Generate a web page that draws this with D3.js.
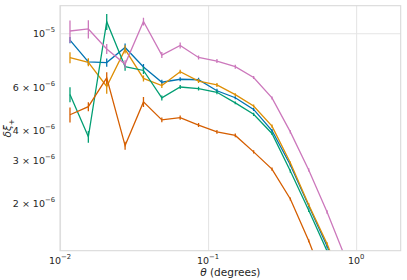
<!DOCTYPE html>
<html>
<head>
<meta charset="utf-8">
<script src="https://cdn.jsdelivr.net/npm/d3@7"></script>
<style>
  body { margin: 0; background: #fff; }
  svg { display: block; font-family: "DejaVu Sans", sans-serif; }
</style>
</head>
<body>
<script>
// angular bins (degrees)
const theta = [0.01168, 0.01554, 0.02068, 0.02752, 0.03662, 0.04872, 0.06482, 0.08625,
               0.1148, 0.1527, 0.2031, 0.2702, 0.3595, 0.4783, 0.6364, 0.8465];

// delta xi_+ for each series
const blueVals   = [9.38e-6, 7.62e-6, 7.58e-6, 8.74e-6, 7.27e-6, 6.29e-6, 6.47e-6, 6.44e-6,
                    5.80e-6, 5.43e-6, 4.86e-6, 3.98e-6, 2.87e-6, 1.95e-6, 1.33e-6, 8.8e-7];
const orangeVals = [7.94e-6, 7.60e-6, 6.04e-6, 8.59e-6, 6.52e-6, 6.09e-6, 6.95e-6, 6.36e-6,
                    6.13e-6, 5.59e-6, 5.02e-6, 4.15e-6, 2.93e-6, 1.97e-6, 1.36e-6, 8.8e-7];
const greenVals  = [5.60e-6, 3.75e-6, 1.116e-5, 7.29e-6, 7.03e-6, 5.42e-6, 6.01e-6, 5.92e-6,
                    5.72e-6, 5.17e-6, 4.64e-6, 3.87e-6, 2.71e-6, 1.87e-6, 1.27e-6, 8.4e-7];
const redVals    = [4.62e-6, 4.99e-6, 6.55e-6, 3.45e-6, 5.22e-6, 4.40e-6, 4.50e-6, 4.19e-6,
                    3.93e-6, 3.80e-6, 3.25e-6, 2.76e-6, 2.08e-6, 1.40e-6, 8.9e-7, 5.5e-7];
const pinkVals   = [1.022e-5, 1.042e-5, 8.62e-6, 7.47e-6, 1.118e-5, 8.14e-6, 8.91e-6, 7.95e-6,
                    7.69e-6, 7.29e-6, 6.58e-6, 5.42e-6, 3.93e-6, 2.74e-6, 1.84e-6, 1.19e-6];

// error bars (absolute)
const blueErr   = [2.7e-7, 2.2e-7, 2.9e-7, 3.3e-7, 2.1e-7, 1.5e-7, 1.2e-7, 1.2e-7,
                   1.1e-7, 8e-8, 7e-8, 6e-8, 4e-8, 3e-8, 2e-8, 1e-8];
const orangeErr = [4.1e-7, 2.9e-7, 4.0e-7, 3.3e-7, 1.9e-7, 1.4e-7, 1.3e-7, 1.2e-7,
                   1.2e-7, 8e-8, 7e-8, 6e-8, 4e-8, 3e-8, 2e-8, 1e-8];
const greenErr  = [4.0e-7, 2.1e-7, 8.5e-7, 2.8e-7, 2.3e-7, 1.3e-7, 1.1e-7, 1.1e-7,
                   1.1e-7, 7e-8, 7e-8, 6e-8, 4e-8, 3e-8, 2e-8, 1e-8];
const redErr    = [3.3e-7, 2.1e-7, 3.7e-7, 1.3e-7, 2.5e-7, 1.0e-7, 9e-8, 8e-8,
                   7e-8, 7e-8, 5e-8, 4e-8, 3e-8, 2e-8, 1e-8, 1e-8];
const pinkErr   = [1.07e-6, 8.9e-7, 4.1e-7, 2.8e-7, 4.2e-7, 2.3e-7, 2.5e-7, 1.5e-7,
                   1.5e-7, 1.4e-7, 9e-8, 8e-8, 6e-8, 4e-8, 3e-8, 2e-8];

const seriesColors = ["#0173b2", "#de8f05", "#029e73", "#d55e00", "#cc78bc"];

// tick labels
const xTicks = [0.01, 0.1, 1];
const xTickExp = ["\u22122", "\u22121", "0"];
const yTicks = [1e-5, 6e-6, 4e-6, 3e-6, 2e-6];
const yTickMant = ["", "6", "4", "3", "2"];
const yTickExp = ["\u22125", "\u22126", "\u22126", "\u22126", "\u22126"];

const w = 407, h = 280;
const margin = {top: 5.7, right: 6.3, bottom: 29.3, left: 60};

const series = [
  {vals: blueVals, err: blueErr},
  {vals: orangeVals, err: orangeErr},
  {vals: greenVals, err: greenErr},
  {vals: redVals, err: redErr},
  {vals: pinkVals, err: pinkErr}
];

const xScale = d3.scaleLog().domain([0.01, 2.0]).range([margin.left, w - margin.right]);
const yScale = d3.scaleLog().domain([1.274e-6, 1.299e-5]).range([h - margin.bottom, margin.top]);

const svg = d3.select("body").append("svg").attr("width", w).attr("height", h);

svg.append("defs").append("clipPath").attr("id", "clip")
  .append("rect")
  .attr("x", margin.left).attr("y", margin.top)
  .attr("width", w - margin.left - margin.right)
  .attr("height", h - margin.top - margin.bottom);

// grid (major only)
svg.append("g")
  .attr("transform", `translate(0, ${h - margin.bottom})`)
  .call(d3.axisBottom(xScale).tickValues(xTicks).tickSize(-(h - margin.top - margin.bottom)).tickFormat(""))
  .call(g => g.select(".domain").remove())
  .call(g => g.selectAll("line").attr("stroke", "#e5e5e5").attr("stroke-width", 1.1));

svg.append("g")
  .attr("transform", `translate(${margin.left}, 0)`)
  .call(d3.axisLeft(yScale).tickValues([1e-5]).tickSize(-(w - margin.left - margin.right)).tickFormat(""))
  .call(g => g.select(".domain").remove())
  .call(g => g.selectAll("line").attr("stroke", "#e5e5e5").attr("stroke-width", 1.1));

// lines and error bars
const plot = svg.append("g").attr("clip-path", "url(#clip)");
const line = d3.line().x((d, i) => xScale(theta[i])).y(d => yScale(d));

series.forEach((s, k) => {
  plot.append("path")
    .datum(s.vals)
    .attr("fill", "none")
    .attr("stroke", seriesColors[k])
    .attr("stroke-width", 1.3)
    .attr("d", line);

  plot.selectAll(null)
    .data(s.vals)
    .enter()
    .append("line")
    .attr("x1", (d, i) => xScale(theta[i]))
    .attr("x2", (d, i) => xScale(theta[i]))
    .attr("y1", (d, i) => yScale(d + s.err[i]))
    .attr("y2", (d, i) => yScale(Math.max(d - s.err[i], 1e-9)))
    .attr("stroke", seriesColors[k])
    .attr("stroke-width", 1.3);
});

// frame
svg.append("rect")
  .attr("x", margin.left).attr("y", margin.top)
  .attr("width", w - margin.left - margin.right)
  .attr("height", h - margin.top - margin.bottom)
  .attr("fill", "none")
  .attr("stroke", "#d9d9d9")
  .attr("stroke-width", 1.1);

// x tick labels
const xLab = svg.append("g");
xTicks.forEach((t, i) => {
  const txt = xLab.append("text")
    .attr("x", xScale(t))
    .attr("y", h - margin.bottom + 13)
    .attr("text-anchor", "middle")
    .attr("font-size", 9.5)
    .attr("fill", "#262626");
  txt.append("tspan").text("10");
  txt.append("tspan").attr("dy", -4.5).attr("font-size", 6.8).text(xTickExp[i]);
});

// y tick labels
const yLab = svg.append("g");
yTicks.forEach((t, i) => {
  const txt = yLab.append("text")
    .attr("x", margin.left - 5)
    .attr("y", yScale(t) + 3.6)
    .attr("text-anchor", "end")
    .attr("font-size", 9.5)
    .attr("fill", "#262626");
  txt.append("tspan").text(yTickMant[i] ? yTickMant[i] + " \u00d7 10" : "10");
  txt.append("tspan").attr("dy", -4.5).attr("font-size", 6.8).text(yTickExp[i]);
});

// axis titles
const xTitle = svg.append("text")
  .attr("x", (margin.left + w - margin.right) / 2)
  .attr("y", h - 4)
  .attr("text-anchor", "middle")
  .attr("font-size", 10.5)
  .attr("fill", "#262626");
xTitle.append("tspan").attr("font-style", "italic").text("\u03b8");
xTitle.append("tspan").text(" (degrees)");

const yTitle = svg.append("text")
  .attr("transform", `translate(11, ${(margin.top + h - margin.bottom) / 2}) rotate(-90)`)
  .attr("text-anchor", "middle")
  .attr("font-size", 10.5)
  .attr("fill", "#262626");
yTitle.append("tspan").attr("font-style", "italic").text("\u03b4\u03be");
yTitle.append("tspan").attr("dy", 2.5).attr("font-size", 7.5).text("+");
</script>
</body>
</html>
